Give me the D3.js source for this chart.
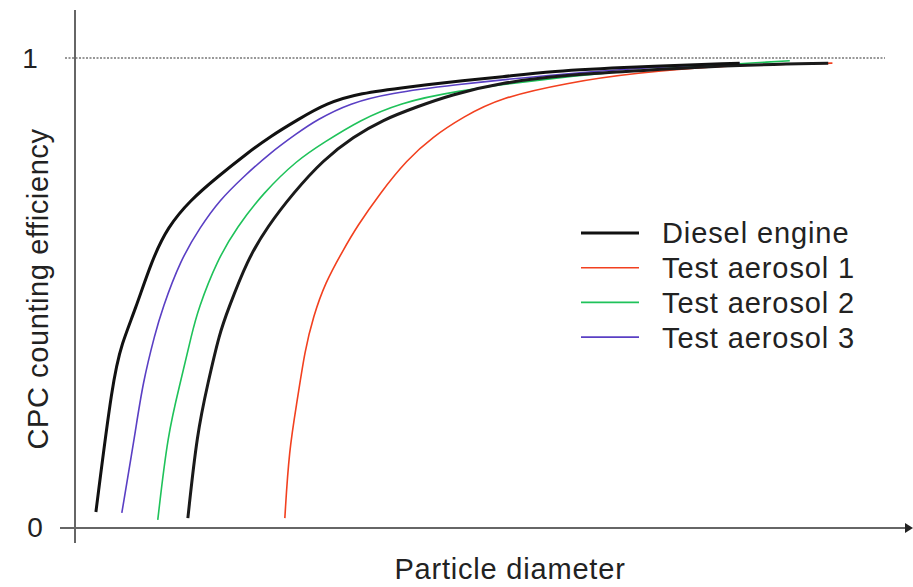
<!DOCTYPE html>
<html lang="en">
<head>
  <meta charset="UTF-8" />
  <title>CPC counting efficiency</title>
  <script src="https://d3js.org/d3.v7.min.js"></script>
  <style>
    body {
      margin: 0;
      background: #fff;
      overflow: hidden;
    }
    text {
      font-family: "Liberation Sans", Arial, sans-serif;
      fill: #222;
    }
    .curve {
      fill: none;
      stroke-linejoin: round;
      stroke-linecap: butt;
    }
  </style>
</head>
<body>
  <script>
    // Curves: diameter (arbitrary units 0-100) vs efficiency (0-1)
    const dieselA = [
      [2.5, 0.032], [4.5, 0.313], [5.6, 0.392], [7.2, 0.463], [9.2, 0.569],
      [11.1, 0.640], [13.8, 0.697], [17.0, 0.746], [20.6, 0.797], [23.3, 0.832],
      [26.6, 0.868], [30.1, 0.904], [34.1, 0.925], [39.7, 0.938], [46.9, 0.953],
      [50.8, 0.959], [56.8, 0.972], [66.7, 0.981], [79.5, 0.989]
    ];
    const dieselB = [
      [13.5, 0.019], [14.6, 0.200], [15.9, 0.307], [17.3, 0.414], [18.3, 0.463],
      [20.6, 0.569], [23.0, 0.640], [26.1, 0.712], [29.7, 0.783], [33.3, 0.832],
      [36.8, 0.868], [40.9, 0.896], [44.9, 0.921], [50.8, 0.947], [58.9, 0.964],
      [66.7, 0.972], [78.7, 0.985], [90.1, 0.989]
    ];
    const aerosol1 = [
      [25.1, 0.019], [25.6, 0.164], [26.6, 0.271], [27.5, 0.377], [28.5, 0.448],
      [29.9, 0.520], [32.1, 0.591], [33.7, 0.640], [36.5, 0.712], [39.7, 0.783],
      [42.8, 0.832], [46.4, 0.874], [50.8, 0.915], [58.9, 0.947], [66.7, 0.968],
      [78.7, 0.985], [90.6, 0.989]
    ];
    const aerosol2 = [
      [9.9, 0.015], [11.1, 0.200], [12.6, 0.307], [14.0, 0.414], [14.7, 0.463],
      [17.0, 0.569], [19.4, 0.640], [22.5, 0.712], [26.6, 0.783], [29.7, 0.819],
      [34.1, 0.868], [38.9, 0.904], [44.9, 0.928], [56.8, 0.957], [68.8, 0.977],
      [85.5, 0.994]
    ];
    const aerosol3 = [
      [5.6, 0.030], [7.2, 0.200], [8.1, 0.307], [9.6, 0.414], [10.4, 0.463],
      [12.6, 0.569], [15.0, 0.640], [17.3, 0.697], [20.1, 0.746], [23.3, 0.797],
      [26.6, 0.840], [28.9, 0.868], [32.9, 0.904], [37.7, 0.925], [44.9, 0.942],
      [56.8, 0.964], [67.6, 0.979], [79.5, 0.989]
    ];

    const legendNames = ["Diesel engine", "Test aerosol 1", "Test aerosol 2", "Test aerosol 3"];
    const legendColors = ["#111", "#f2401f", "#1fc25a", "#5a3fc4"];
    const legendWidths = [3, 1.6, 1.6, 1.6];
    const yTicks = [0, 1];

    const width = 913, height = 587;

    const svg = d3.select("body").append("svg")
      .attr("width", width)
      .attr("height", height);

    const x = d3.scaleLinear().domain([0, 100]).range([75, 911]);
    const y = d3.scaleLinear().domain([0, 1]).range([527, 58]);

    // Dotted reference line at efficiency = 1
    svg.append("line")
      .attr("x1", 65).attr("x2", 885)
      .attr("y1", y(1)).attr("y2", y(1))
      .attr("stroke", "#333")
      .attr("stroke-width", 1.2)
      .attr("stroke-dasharray", "2,1.5");

    // Axes
    svg.append("line")
      .attr("x1", x(0)).attr("x2", x(0))
      .attr("y1", 10).attr("y2", 543)
      .attr("stroke", "#666")
      .attr("stroke-width", 2);
    svg.append("line")
      .attr("x1", 60).attr("x2", 910)
      .attr("y1", y(0) + 1).attr("y2", y(0) + 1)
      .attr("stroke", "#666")
      .attr("stroke-width", 2);
    svg.append("path")
      .attr("d", `M905,${y(0) - 4} L913,${y(0) + 1} L905,${y(0) + 6} Z`)
      .attr("fill", "#222");

    // Tick labels
    svg.selectAll(".ytick")
      .data(yTicks)
      .enter()
      .append("text")
      .attr("class", "ytick")
      .attr("x", d => d === 1 ? 30 : 35)
      .attr("y", d => y(d))
      .attr("dy", "0.36em")
      .attr("text-anchor", "middle")
      .style("font-size", "28px")
      .text(d => d);

    // Axis titles
    svg.append("text")
      .attr("transform", "translate(48,289) rotate(-90)")
      .attr("text-anchor", "middle")
      .style("font-size", "29px")
      .style("letter-spacing", "0.6px")
      .text("CPC counting efficiency");
    svg.append("text")
      .attr("x", 510)
      .attr("y", 579)
      .attr("text-anchor", "middle")
      .style("font-size", "29px")
      .style("letter-spacing", "0.8px")
      .text("Particle diameter");

    // Curves
    const line = d3.line()
      .x(d => x(d[0]))
      .y(d => y(d[1]))
      .curve(d3.curveBasis);

    const series = [
      { data: aerosol1, color: legendColors[1], w: legendWidths[1] },
      { data: aerosol2, color: legendColors[2], w: legendWidths[2] },
      { data: aerosol3, color: legendColors[3], w: legendWidths[3] },
      { data: dieselB, color: "#1a1a1a", w: 3 },
      { data: dieselA, color: legendColors[0], w: legendWidths[0] }
    ];

    svg.selectAll(".curve")
      .data(series)
      .enter()
      .append("path")
      .attr("class", "curve")
      .attr("stroke", d => d.color)
      .attr("stroke-width", d => d.w)
      .attr("d", d => line(d.data));

    // Legend
    const legend = svg.append("g").attr("transform", "translate(581,233)");
    const item = legend.selectAll("g")
      .data(legendNames)
      .enter()
      .append("g")
      .attr("transform", (d, i) => `translate(0,${i * 34.7})`);
    item.append("line")
      .attr("x1", 0).attr("x2", 58)
      .attr("y1", 0).attr("y2", 0)
      .attr("stroke", (d, i) => legendColors[i])
      .attr("stroke-width", (d, i) => legendWidths[i]);
    item.append("text")
      .attr("x", 81)
      .attr("y", 0)
      .attr("dy", "0.36em")
      .style("font-size", "29px")
      .style("letter-spacing", "0.9px")
      .text(d => d);
  </script>
</body>
</html>
